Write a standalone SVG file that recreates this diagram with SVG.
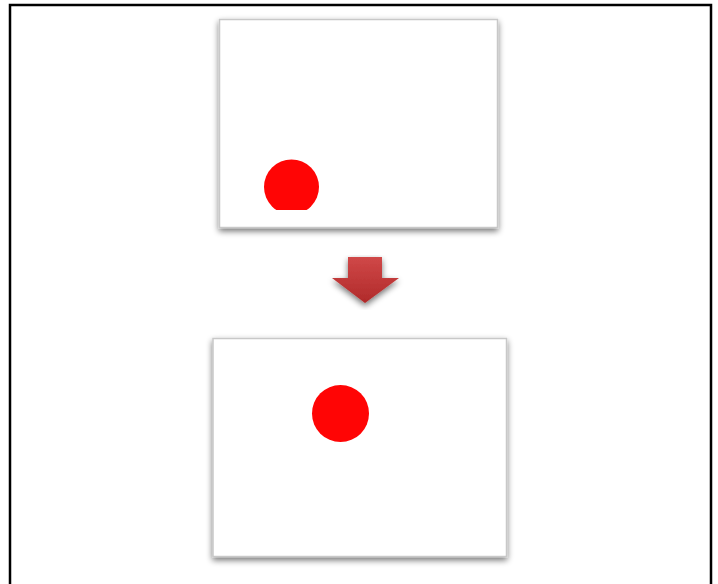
<svg xmlns="http://www.w3.org/2000/svg" width="718" height="584" viewBox="0 0 718 584">
<defs>
<filter id="sh" x="-10%" y="-10%" width="120%" height="125%">
<feGaussianBlur in="SourceAlpha" stdDeviation="3"/>
<feOffset dx="0" dy="3" result="b"/>
<feComponentTransfer><feFuncA type="linear" slope="0.55"/></feComponentTransfer>
<feMerge><feMergeNode/><feMergeNode in="SourceGraphic"/></feMerge>
</filter>
<linearGradient id="ag" x1="0" y1="0" x2="0" y2="1">
<stop offset="0" stop-color="#d04848"/>
<stop offset="1" stop-color="#b02a2a"/>
</linearGradient>
<clipPath id="c1"><rect x="219" y="19" width="279" height="191"/></clipPath>
<style>
.frame{fill:#fff;stroke:#c8c8c8;stroke-width:1.5}
.ball{fill:#ff0505}
</style>
</defs>
<rect x="0" y="0" width="718" height="584" fill="#fff"/>
<path d="M10,590 V5 H711 V590" fill="none" stroke="#000" stroke-width="2.5"/>
<g id="top-frame">
<rect class="frame" x="219.5" y="19.5" width="278" height="208" filter="url(#sh)"/>
<circle class="ball" cx="291.5" cy="187" r="27.5" clip-path="url(#c1)"/>
</g>
<g id="connectors">
<path d="M348,257 H382 V278 H399 L365,303 L332,278 H348 Z" fill="url(#ag)" filter="url(#sh)"/>
</g>
<g id="bottom-frame">
<rect class="frame" x="213" y="338.5" width="293.5" height="218" filter="url(#sh)"/>
<circle class="ball" cx="340.5" cy="413.5" r="28.5"/>
</g>
</svg>
